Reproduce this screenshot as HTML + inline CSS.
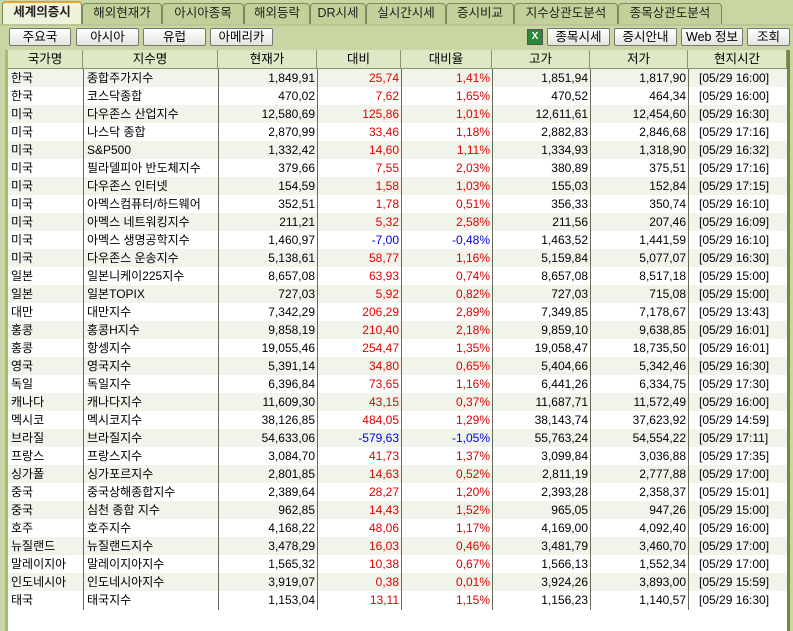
<!DOCTYPE html><html><head><meta charset="utf-8"><style>
*{margin:0;padding:0;box-sizing:border-box}
body{width:793px;height:631px;background:#c9d6a4;font-family:"Liberation Sans","Noto Sans CJK KR",sans-serif;font-size:12px;position:relative;overflow:hidden;color:#000}
.tab{position:absolute;top:3px;height:21px;background:#c2d09a;border:1px solid #7b8a5a;border-bottom:none;border-radius:4px 4px 0 0;text-align:center;line-height:19px;font-size:12.5px;color:#222}
.tab.a{background:#eef3dc;top:1px;height:23px;border-top:2px solid #e8a030;font-weight:bold}
.btn{position:absolute;top:28px;height:18px;background:linear-gradient(#fff,#e4e4e0);border:1px solid #777;border-radius:2px;text-align:center;line-height:16px;font-size:12.5px}
#tbl{position:absolute;left:8px;top:50px;width:780px;height:581px;background:#fff}
.hd{position:absolute;top:50px;height:19px;background:#dfe8c4;border-right:1px solid #8a9470;border-bottom:1px solid #8a9470;text-align:center;line-height:18px;font-size:12.5px}
.r{position:absolute;left:8px;width:779px;height:18px;line-height:18px}
.r.s{background:#f1f4ea}
.r span{position:absolute;top:0;white-space:nowrap}
.n{text-align:right}
.red{color:#e00000}.blu{color:#0000e0}
.vl{position:absolute;top:69px;height:541px;width:1px;background:#6a6a58}
</style></head><body>
<div class="tab a" style="left:2px;width:80px">세계의증시</div>
<div class="tab" style="left:82px;width:80px">해외현재가</div>
<div class="tab" style="left:162px;width:82px">아시아종목</div>
<div class="tab" style="left:244px;width:66px">해외등락</div>
<div class="tab" style="left:310px;width:56px">DR시세</div>
<div class="tab" style="left:366px;width:80px">실시간시세</div>
<div class="tab" style="left:446px;width:68px">증시비교</div>
<div class="tab" style="left:514px;width:104px">지수상관도분석</div>
<div class="tab" style="left:618px;width:104px">종목상관도분석</div>
<div class="btn" style="left:9px;width:62px">주요국</div>
<div class="btn" style="left:76px;width:63px">아시아</div>
<div class="btn" style="left:143px;width:63px">유럽</div>
<div class="btn" style="left:210px;width:63px">아메리카</div>
<div style="position:absolute;left:527px;top:29px;width:16px;height:16px;background:#2a8a3a;border:1px solid #555;color:#fff;font-size:10px;text-align:center;line-height:14px;font-weight:bold">X</div>
<div class="btn" style="left:547px;width:63px">종목시세</div>
<div class="btn" style="left:614px;width:63px">증시안내</div>
<div class="btn" style="left:681px;width:62px">Web 정보</div>
<div class="btn" style="left:747px;width:43px">조회</div>
<div style="position:absolute;left:0;top:24px;width:793px;height:2px;background:#b8c890"></div>
<div id="tbl"></div>
<div class="hd" style="left:8px;width:75px">국가명</div>
<div class="hd" style="left:83px;width:135px">지수명</div>
<div class="hd" style="left:218px;width:99px">현재가</div>
<div class="hd" style="left:317px;width:84px">대비</div>
<div class="hd" style="left:401px;width:91px">대비율</div>
<div class="hd" style="left:492px;width:98px">고가</div>
<div class="hd" style="left:590px;width:98px">저가</div>
<div class="hd" style="left:688px;width:99px">현지시간</div>
<div id="rows"></div>
<div class="vl" style="left:83px"></div><div class="vl" style="left:218px"></div><div class="vl" style="left:317px"></div><div class="vl" style="left:401px"></div><div class="vl" style="left:492px"></div><div class="vl" style="left:590px"></div><div class="vl" style="left:688px"></div>
<div style="position:absolute;left:787px;top:50px;width:3px;height:581px;background:#6e8a3c"></div>
<div style="position:absolute;left:5px;top:50px;width:3px;height:581px;background:#a8bc70"></div>
<script>
var d=[
["한국","종합주가지수","1,849,91","25,74","1,41%","1,851,94","1,817,90","[05/29 16:00]"],
["한국","코스닥종합","470,02","7,62","1,65%","470,52","464,34","[05/29 16:00]"],
["미국","다우존스 산업지수","12,580,69","125,86","1,01%","12,611,61","12,454,60","[05/29 16:30]"],
["미국","나스닥 종합","2,870,99","33,46","1,18%","2,882,83","2,846,68","[05/29 17:16]"],
["미국","S&P500","1,332,42","14,60","1,11%","1,334,93","1,318,90","[05/29 16:32]"],
["미국","필라델피아 반도체지수","379,66","7,55","2,03%","380,89","375,51","[05/29 17:16]"],
["미국","다우존스 인터넷","154,59","1,58","1,03%","155,03","152,84","[05/29 17:15]"],
["미국","아멕스컴퓨터/하드웨어","352,51","1,78","0,51%","356,33","350,74","[05/29 16:10]"],
["미국","아멕스 네트워킹지수","211,21","5,32","2,58%","211,56","207,46","[05/29 16:09]"],
["미국","아멕스 생명공학지수","1,460,97","-7,00","-0,48%","1,463,52","1,441,59","[05/29 16:10]"],
["미국","다우존스 운송지수","5,138,61","58,77","1,16%","5,159,84","5,077,07","[05/29 16:30]"],
["일본","일본니케이225지수","8,657,08","63,93","0,74%","8,657,08","8,517,18","[05/29 15:00]"],
["일본","일본TOPIX","727,03","5,92","0,82%","727,03","715,08","[05/29 15:00]"],
["대만","대만지수","7,342,29","206,29","2,89%","7,349,85","7,178,67","[05/29 13:43]"],
["홍콩","홍콩H지수","9,858,19","210,40","2,18%","9,859,10","9,638,85","[05/29 16:01]"],
["홍콩","항셍지수","19,055,46","254,47","1,35%","19,058,47","18,735,50","[05/29 16:01]"],
["영국","영국지수","5,391,14","34,80","0,65%","5,404,66","5,342,46","[05/29 16:30]"],
["독일","독일지수","6,396,84","73,65","1,16%","6,441,26","6,334,75","[05/29 17:30]"],
["캐나다","캐나다지수","11,609,30","43,15","0,37%","11,687,71","11,572,49","[05/29 16:00]"],
["멕시코","멕시코지수","38,126,85","484,05","1,29%","38,143,74","37,623,92","[05/29 14:59]"],
["브라질","브라질지수","54,633,06","-579,63","-1,05%","55,763,24","54,554,22","[05/29 17:11]"],
["프랑스","프랑스지수","3,084,70","41,73","1,37%","3,099,84","3,036,88","[05/29 17:35]"],
["싱가폴","싱가포르지수","2,801,85","14,63","0,52%","2,811,19","2,777,88","[05/29 17:00]"],
["중국","중국상해종합지수","2,389,64","28,27","1,20%","2,393,28","2,358,37","[05/29 15:01]"],
["중국","심천 종합 지수","962,85","14,43","1,52%","965,05","947,26","[05/29 15:00]"],
["호주","호주지수","4,168,22","48,06","1,17%","4,169,00","4,092,40","[05/29 16:00]"],
["뉴질랜드","뉴질랜드지수","3,478,29","16,03","0,46%","3,481,79","3,460,70","[05/29 17:00]"],
["말레이지아","말레이지아지수","1,565,32","10,38","0,67%","1,566,13","1,552,34","[05/29 17:00]"],
["인도네시아","인도네시아지수","3,919,07","0,38","0,01%","3,924,26","3,893,00","[05/29 15:59]"],
["태국","태국지수","1,153,04","13,11","1,15%","1,156,23","1,140,57","[05/29 16:30]"]];
var h="";
d.forEach(function(r,i){
var c=r[3][0]=="-"?"blu":"red";
h+='<div class="r'+(i%2==0?' s':'')+'" style="top:'+(69+i*18)+'px">'+
'<span style="left:3px">'+r[0]+'</span><span style="left:79px">'+r[1]+'</span>'+
'<span class="n" style="right:472px">'+r[2]+'</span>'+
'<span class="n '+c+'" style="right:388px">'+r[3]+'</span>'+
'<span class="n '+c+'" style="right:297px">'+r[4]+'</span>'+
'<span class="n" style="right:199px">'+r[5]+'</span>'+
'<span class="n" style="right:101px">'+r[6]+'</span>'+
'<span style="left:691px">'+r[7]+'</span></div>';});
document.getElementById("rows").innerHTML=h;
</script></body></html>
